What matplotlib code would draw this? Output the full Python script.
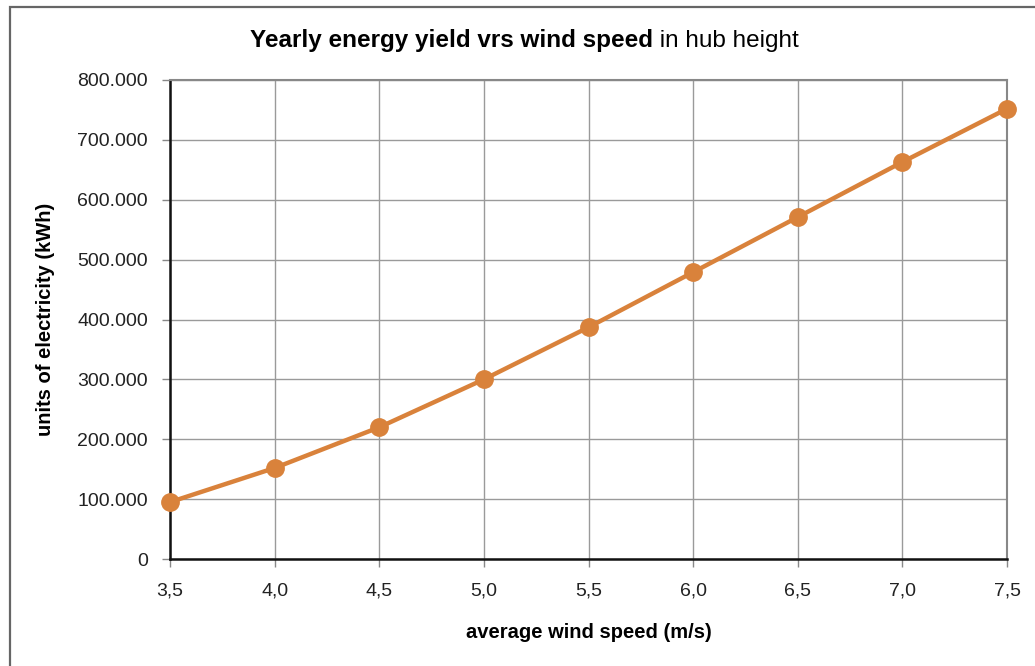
import matplotlib.pyplot as plt
from matplotlib.patches import Rectangle
from matplotlib.ticker import FuncFormatter

plt.rcParams['font.family'] = ['Liberation Sans', 'DejaVu Sans']

wind_speed = [3.5, 4.0, 4.5, 5.0, 5.5, 6.0, 6.5, 7.0, 7.5]
energy_kwh = [95000, 152000, 220000, 300000, 387000, 479000, 571000, 663000, 752000]
x_ticks = [3.5, 4.0, 4.5, 5.0, 5.5, 6.0, 6.5, 7.0, 7.5]
y_ticks = [0, 100000, 200000, 300000, 400000, 500000, 600000, 700000, 800000]

orange = '#d9823b'

fig = plt.figure(figsize=(10.35, 6.66), dpi=100)
ax = fig.add_axes([170/1035, 1 - 559/666, 837/1035, 479/666])

# outer chart frame (runs off the right and bottom edge)
fig.patches.append(Rectangle((10/1035, -0.1), 1.2, 1 - 7/666 + 0.1,
                             transform=fig.transFigure, fill=False,
                             edgecolor='#666666', lw=1.6, zorder=0))

ax.plot(wind_speed, energy_kwh, color=orange, lw=3.2, marker='o',
        markersize=12.5, zorder=3, clip_on=False)

ax.set_xlim(3.5, 7.5)
ax.set_ylim(0, 800000)
ax.set_xticks(x_ticks)
ax.set_yticks(y_ticks)

ax.xaxis.set_major_formatter(FuncFormatter(lambda v, p: f'{v:.1f}'.replace('.', ',')))
ax.yaxis.set_major_formatter(FuncFormatter(
    lambda v, p: '0' if v == 0 else f'{int(v):,}'.replace(',', '.')))

ax.grid(True, color='#9a9a9a', lw=1.0)
ax.set_axisbelow(True)
for s in ['top', 'right']:
    ax.spines[s].set_color('#888888')
    ax.spines[s].set_linewidth(1.5)
for s in ['left', 'bottom']:
    ax.spines[s].set_color('#111111')
    ax.spines[s].set_linewidth(1.8)

ax.tick_params(axis='both', direction='out', length=6, width=1,
               color='#888888', labelsize=14, labelcolor='#222222')
ax.tick_params(axis='x', pad=11)
ax.tick_params(axis='y', pad=10)

ax.set_xlabel('average wind speed (m/s)', fontsize=14.5, fontweight='bold', labelpad=17)
ax.set_ylabel('units of electricity (kWh)', fontsize=14.5, fontweight='bold', labelpad=16)

t = fig.text(250/1035, 1 - 40/666, 'Yearly energy yield vrs wind speed',
             fontsize=17.5, fontweight='bold', ha='left', va='center')
ax.annotate(' in hub height', xy=(1, 0), xycoords=t, fontsize=17.5,
            ha='left', va='bottom', annotation_clip=False)

fig.savefig('out.png', dpi=100)
